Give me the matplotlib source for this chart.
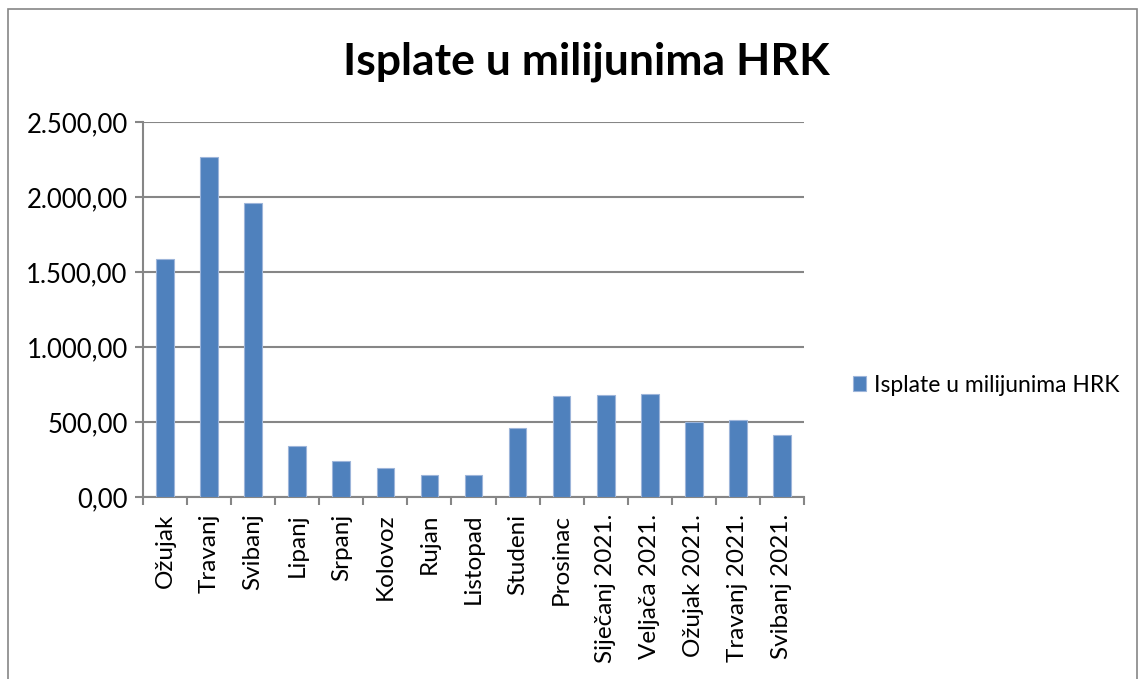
import matplotlib.pyplot as plt
import matplotlib.patches as patches
from matplotlib.ticker import FuncFormatter, FixedLocator

# Data
months = ["Ožujak", "Travanj", "Svibanj", "Lipanj", "Srpanj", "Kolovoz", "Rujan",
          "Listopad", "Studeni", "Prosinac", "Siječanj 2021.", "Veljača 2021.",
          "Ožujak 2021.", "Travanj 2021.", "Svibanj 2021."]
payouts = [1585, 2269, 1963, 340, 240, 193, 150, 150, 463, 673, 683, 689, 502, 511, 413]
series_name = "Isplate u milijunima HRK"

plt.rcParams['font.family'] = ['Lato', 'DejaVu Sans']
grey = "#868686"

fig = plt.figure(figsize=(11.45, 6.79), dpi=100)
ax = fig.add_axes([143 / 1145, 1 - 497 / 679, 661 / 1145, 375 / 679])

# Chart area border
fig.patches.append(patches.Rectangle((8 / 1145, -0.01), 1129 / 1145, 1 - 9 / 679 + 0.01,
                                     transform=fig.transFigure, fill=False,
                                     edgecolor=grey, linewidth=1.2))

x = range(len(months))
ax.bar(x, payouts, width=0.4, color="#4F81BD", edgecolor="#9DB5DA", linewidth=0.8,
       label=series_name, zorder=3)

ax.set_xlim(-0.5, len(months) - 0.5)
ax.set_ylim(0, 2500)
ax.set_yticks([0, 500, 1000, 1500, 2000, 2500])
ax.yaxis.set_major_formatter(FuncFormatter(
    lambda v, p: f"{v:,.2f}".replace(",", "X").replace(".", ",").replace("X", ".")))
ax.grid(axis="y", color=grey, linewidth=1.5, zorder=0)

ax.set_xticks(list(x))
ax.set_xticklabels(months, rotation=90, fontsize=17.5)
ax.xaxis.set_minor_locator(FixedLocator([i - 0.5 for i in range(len(months) + 1)]))
ax.tick_params(axis="x", which="major", length=0, pad=12)
ax.tick_params(axis="x", which="minor", length=6, width=1.5, color=grey)
ax.tick_params(axis="y", length=6, width=1.5, color=grey, labelsize=18.5, pad=5)

for side in ["top", "right"]:
    ax.spines[side].set_visible(False)
for side in ["left", "bottom"]:
    ax.spines[side].set_color(grey)
    ax.spines[side].set_linewidth(1.5)

fig.suptitle(series_name, x=586 / 1145, y=1 - 62 / 679, va="center",
             fontsize=32, fontweight="bold")

ax.legend(loc="center left", bbox_to_anchor=(832 / 1145, 1 - 385 / 679),
          bbox_transform=fig.transFigure, frameon=False, fontsize=16.5,
          handlelength=0.6, handleheight=0.6, handletextpad=0.35)

fig.savefig("out.png", dpi=100)
